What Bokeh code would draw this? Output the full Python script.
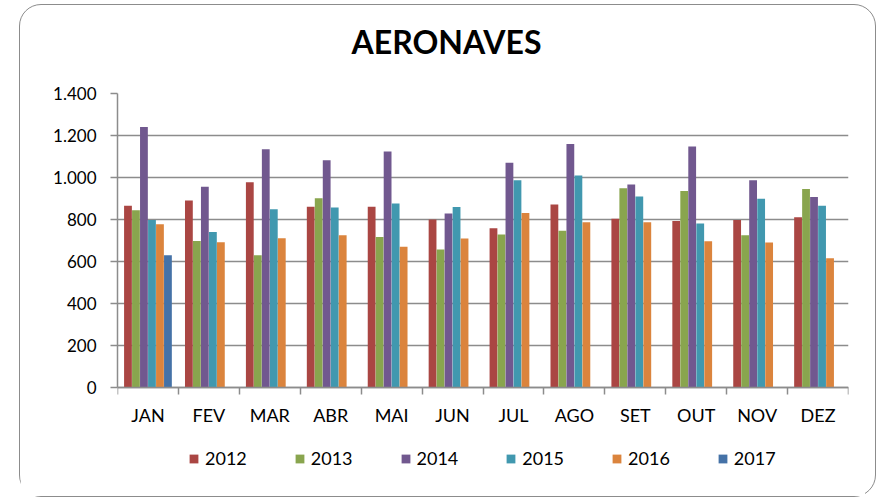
from bokeh.plotting import figure
from bokeh.models import (Range1d, FixedTicker, Legend, LegendItem, ColumnDataSource, Div)
from bokeh.layouts import column
from bokeh.transform import dodge
from bokeh.embed import file_html
from bokeh.resources import INLINE

title_text = "AERONAVES"
months = ["JAN", "FEV", "MAR", "ABR", "MAI", "JUN", "JUL", "AGO", "SET", "OUT", "NOV", "DEZ"]
years = ["2012", "2013", "2014", "2015", "2016", "2017"]
v2012 = [866, 890, 977, 861, 861, 800, 758, 871, 804, 793, 798, 811]
v2013 = [844, 698, 630, 901, 717, 657, 728, 747, 949, 936, 725, 945]
v2014 = [1241, 956, 1134, 1082, 1124, 828, 1070, 1159, 967, 1148, 987, 907]
v2015 = [798, 740, 849, 857, 876, 860, 987, 1010, 909, 781, 899, 866]
v2016 = [777, 692, 711, 725, 670, 709, 831, 787, 787, 697, 690, 616]
v2017 = [630, None, None, None, None, None, None, None, None, None, None, None]
y_ticks = [0, 200, 400, 600, 800, 1000, 1200, 1400]
y_tick_labels = ["0", "200", "400", "600", "800", "1.000", "1.200", "1.400"]
colors = ["#AA4643", "#89A54E", "#71588F", "#4198AF", "#DB843D", "#4572A7"]

series = [v2012, v2013, v2014, v2015, v2016, v2017]
centers = [i + 0.5 for i in range(len(months))]
data = {"month": months, "x": centers}
for y, s in zip(years, series):
    data[y] = [float("nan") if v is None else v for v in s]
src = ColumnDataSource(data)

FONT = "Lato"
GRAY = "#8c8c8c"

# frame extends below the value axis to hold the legend
PLOT_H = 294
FRAME_H = 392
y_max = y_ticks[-1]
y_min = -y_max * (FRAME_H - PLOT_H) / PLOT_H

p = figure(x_range=Range1d(0, len(months)), y_range=Range1d(y_min, y_max),
           frame_width=731, frame_height=FRAME_H,
           min_border_left=97, min_border_right=17, min_border_top=14, min_border_bottom=11,
           output_backend="svg", toolbar_location=None,
           background_fill_color="white", border_fill_color="white")
p.outline_line_color = None

p.xaxis.fixed_location = 0
p.xaxis.ticker = FixedTicker(ticks=centers, minor_ticks=list(range(len(months) + 1)))
p.xaxis.major_label_overrides = dict(zip(centers, months))
p.xaxis.major_tick_line_color = None
p.xaxis.minor_tick_out = 7
p.xaxis.minor_tick_in = 0
p.xaxis.minor_tick_line_color = GRAY
p.xaxis.minor_tick_line_width = 1.5
p.xaxis.axis_line_color = GRAY
p.xaxis.axis_line_width = 1.5
p.xaxis.major_label_text_font = FONT
p.xaxis.major_label_text_font_size = "18px"
p.xaxis.major_label_text_color = "black"
p.xaxis.major_label_standoff = 9

p.yaxis.bounds = (0, y_max)
p.yaxis.ticker = FixedTicker(ticks=y_ticks)
p.yaxis.major_label_overrides = dict(zip(y_ticks, y_tick_labels))
p.yaxis.major_tick_out = 7
p.yaxis.major_tick_in = 0
p.yaxis.minor_tick_line_color = None
p.yaxis.axis_line_color = GRAY
p.yaxis.axis_line_width = 1.5
p.yaxis.major_tick_line_color = GRAY
p.yaxis.major_tick_line_width = 1.5
p.yaxis.major_label_text_font = FONT
p.yaxis.major_label_text_font_size = "17px"
p.yaxis.major_label_text_color = "black"
p.yaxis.major_label_standoff = 14

p.ygrid.ticker = FixedTicker(ticks=y_ticks)
p.ygrid.grid_line_color = GRAY
p.ygrid.grid_line_width = 1.5
p.xgrid.grid_line_color = None

offsets = [-0.328, -0.197, -0.066, 0.066, 0.197, 0.328]
items = []
for y, c, off in zip(years, colors, offsets):
    r = p.vbar(x=dodge("x", off), top=y, bottom=0, width=0.128, source=src,
               fill_color=c, line_color=None)
    items.append(LegendItem(label=y, renderers=[r]))

legend = Legend(items=items, orientation="horizontal", location=(71, 16),
                label_text_font=FONT, label_text_font_size="18px", label_text_color="black",
                glyph_width=11, glyph_height=11, label_standoff=6, spacing=47,
                border_line_color=None, background_fill_alpha=0, padding=5, margin=0)
p.add_layout(legend, "center")

title = Div(text=title_text, width=845, height=64,
            styles={"text-align": "center", "font-family": FONT, "font-weight": "bold",
                    "font-size": "32px", "line-height": "64px", "color": "black",
                    "text-indent": "-2px"})

layout = column(title, p, spacing=0,
                styles={"margin-left": "19px", "margin-top": "4px",
                        "border": "1px solid #8c8c8c", "border-radius": "22px",
                        "background-color": "white"})

open("out.html", "w").write(file_html(layout, INLINE))
